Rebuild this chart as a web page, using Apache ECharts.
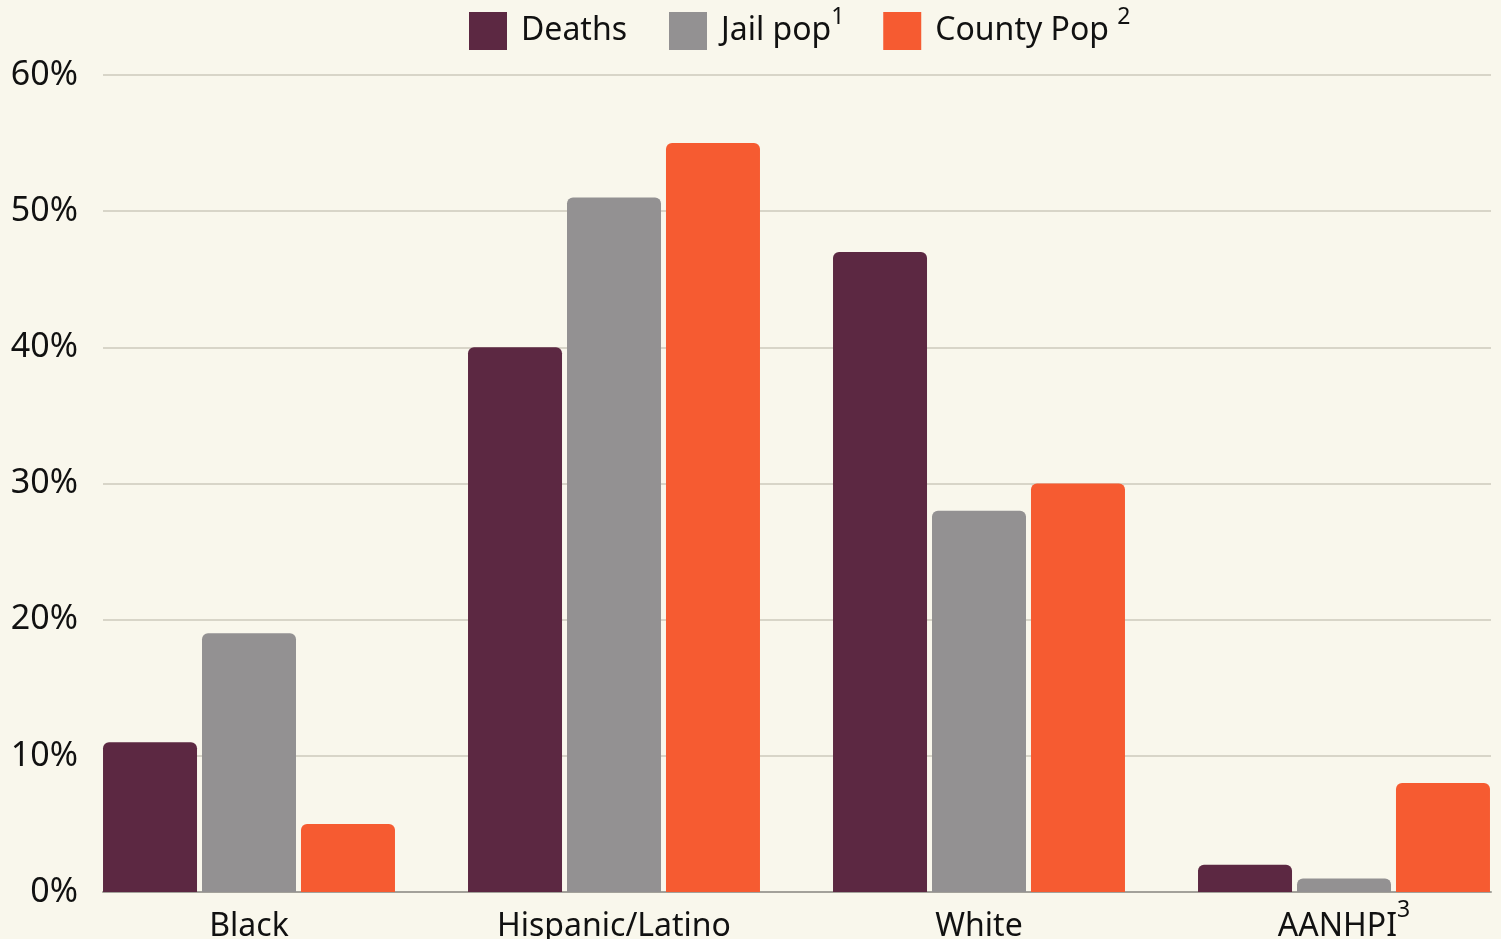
<!DOCTYPE html>
<html><head><meta charset="utf-8">
<script src="https://cdn.jsdelivr.net/npm/echarts@6/dist/echarts.min.js"></script>
<style>html,body{margin:0;padding:0;background:#f9f7ec;}#c{width:1501px;height:939px;}</style>
</head><body><div id="c"></div>
<script>
const categories = ['Black', 'Hispanic/Latino', 'White', 'AANHPI'];
const deaths = [11, 40, 47, 2];
const jailPop = [19, 51, 28, 1];
const countyPop = [5, 55, 30, 8];
const yTicks = [0, 10, 20, 30, 40, 50, 60];

const FONT = 'Noto Sans';
const chart = echarts.init(document.getElementById('c'));
chart.setOption({
  backgroundColor: '#f9f7ec',
  textStyle: {fontFamily: FONT},
  legend: {
    left: 469, top: 6, padding: 0, itemWidth: 38, itemHeight: 38, itemGap: 20, icon: 'rect',
    data: ['Deaths', 'Jail pop', 'County Pop'],
    formatter: function (n) {
      if (n === 'Jail pop') return '{t|Jail pop}{sj|1}';
      if (n === 'County Pop') return '{t|County Pop }{s|2}';
      return '{d|' + n + '}';
    },
    textStyle: {
      color: '#111', fontSize: 32, fontFamily: FONT,
      rich: {
        d: {fontSize: 32, fontFamily: FONT, color: '#111', padding: [0, 0, 0, 9], width: 128, lineHeight: 50},
        t: {fontSize: 32, fontFamily: FONT, color: '#111', padding: [0, 0, 0, 9], lineHeight: 50},
        s: {fontSize: 23, fontFamily: FONT, color: '#111', lineHeight: 22, verticalAlign: 'top'},
        sj: {fontSize: 23, fontFamily: FONT, color: '#111', lineHeight: 22, verticalAlign: 'top', width: 32}
      }
    }
  },
  grid: [
    {left: 103, right: 10, top: 75, bottom: 47, outerBoundsMode: 'none', containLabel: false},
    {left: 66.5, width: 1460, top: 75, bottom: 47, outerBoundsMode: 'none', containLabel: false}
  ],
  xAxis: [
    {type: 'category', gridIndex: 0, data: categories, axisLabel: {show: false}, axisTick: {show: false},
     axisLine: {show: true, lineStyle: {color: '#a3a19a', width: 2}}},
    {type: 'category', gridIndex: 1, data: categories, axisTick: {show: false}, axisLine: {show: false},
     axisLabel: {
       interval: 0, hideOverlap: false,
       margin: 7, color: '#111', fontSize: 32, fontFamily: FONT,
       formatter: function (v) { return v === 'AANHPI' ? '{t|AANHPI}{s|3}' : '{t|' + v + '}'; },
       rich: {
         t: {fontSize: 32, fontFamily: FONT, color: '#111', lineHeight: 56},
         s: {fontSize: 23, fontFamily: FONT, color: '#111', lineHeight: 22, verticalAlign: 'top'}
       }
     }}
  ],
  yAxis: [
    {type: 'value', gridIndex: 0, min: yTicks[0], max: yTicks[yTicks.length - 1], interval: 10,
     axisLabel: {formatter: '{value}%', color: '#111', fontSize: 34, fontFamily: FONT, margin: 25},
     axisLine: {show: false}, axisTick: {show: false},
     splitLine: {lineStyle: {color: '#cdcabd', width: 1.5}}},
    {type: 'value', gridIndex: 1, min: yTicks[0], max: yTicks[yTicks.length - 1], interval: 10, show: false, splitLine: {show: false}}
  ],
  series: [
    {name: 'Deaths', type: 'bar', xAxisIndex: 1, yAxisIndex: 1, data: deaths, barWidth: 94, barGap: '5.3%',
     itemStyle: {color: '#5c2842', borderRadius: [6, 6, 0, 0]}},
    {name: 'Jail pop', type: 'bar', xAxisIndex: 1, yAxisIndex: 1, data: jailPop, barWidth: 94, barGap: '5.3%',
     itemStyle: {color: '#939192', borderRadius: [6, 6, 0, 0]}},
    {name: 'County Pop', type: 'bar', xAxisIndex: 1, yAxisIndex: 1, data: countyPop, barWidth: 94, barGap: '5.3%',
     itemStyle: {color: '#f65b31', borderRadius: [6, 6, 0, 0]}}
  ],
  animation: false
});
</script></body></html>
